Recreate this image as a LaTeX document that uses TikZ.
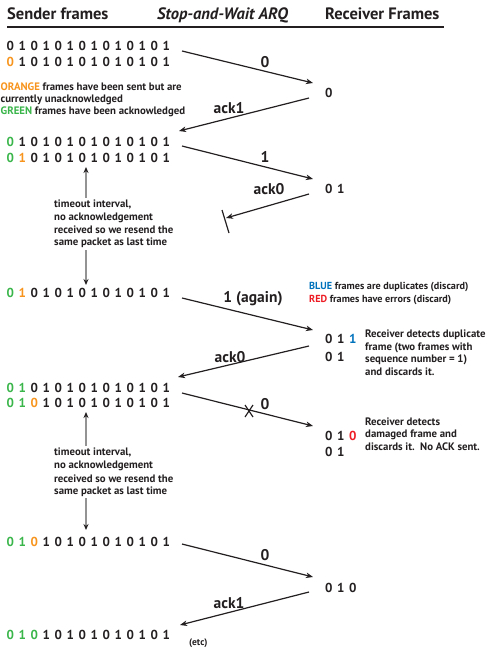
\documentclass[tikz,border=0pt]{standalone}
\usepackage{fontspec}
\setmainfont{PT Sans}
\usetikzlibrary{arrows.meta}
\definecolor{ink}{HTML}{231F20}
\definecolor{org}{HTML}{F7941D}
\definecolor{grn}{HTML}{39B54A}
\definecolor{blu}{HTML}{0072BC}
\definecolor{rd}{HTML}{ED1C24}
\newcommand\dg[2][ink]{\makebox[12pt]{\textcolor{#1}{#2}}}
\tikzset{
 txt/.style={inner sep=0pt, anchor=base west, text=ink},
 hdr/.style={txt, font=\fontsize{16.5}{18}\selectfont\bfseries},
 bits/.style={txt, font=\fontsize{13}{15}\selectfont\bfseries},
 small/.style={txt, font=\fontsize{10.8}{12}\selectfont\bfseries},
 legr/.style={txt, font=\fontsize{10.2}{12}\selectfont\bfseries},
 lbl/.style={inner sep=0pt, text=ink, font=\fontsize{15.5}{17}\selectfont\bfseries},
 msg/.style={draw=ink, line width=1.2pt, -{Stealth[length=7pt,width=5.5pt,inset=2pt]}},
 tmo/.style={draw=gray!85, line width=1.4pt, -{Stealth[length=6pt,width=5pt,color=ink]}},
 tickline/.style={draw=ink, line width=1.2pt},
}
\begin{document}
\begin{tikzpicture}[x=1pt,y=-1pt]
\useasboundingbox (0,0) rectangle (492,648);
% header
\node[hdr] (hs) at (7,19) {Sender frames};
\node[hdr] (hm) at (157,19) {\itshape Stop-and-Wait ARQ};
\node[hdr] (hr) at (325,19) {Receiver Frames};
\coordinate (rl) at (7,27); \coordinate (rr) at (444,27);
\draw[ink, line width=2pt] (rl) -- (rr);

% sender rows
\node[bits] (r1) at (4,50) {\dg0\dg1\dg0\dg1\dg0\dg1\dg0\dg1\dg0\dg1\dg0\dg1\dg0\dg1};
\node[bits] (r2) at (4,66) {\dg[org]0\dg1\dg0\dg1\dg0\dg1\dg0\dg1\dg0\dg1\dg0\dg1\dg0\dg1};
\node[bits] (r3) at (4,146) {\dg[grn]0\dg1\dg0\dg1\dg0\dg1\dg0\dg1\dg0\dg1\dg0\dg1\dg0\dg1};
\node[bits] (r4) at (4,162) {\dg[grn]0\dg[org]1\dg0\dg1\dg0\dg1\dg0\dg1\dg0\dg1\dg0\dg1\dg0\dg1};
\node[bits] (r5) at (4,297) {\dg[grn]0\dg[org]1\dg0\dg1\dg0\dg1\dg0\dg1\dg0\dg1\dg0\dg1\dg0\dg1};
\node[bits] (r6) at (4,392) {\dg[grn]0\dg[grn]1\dg0\dg1\dg0\dg1\dg0\dg1\dg0\dg1\dg0\dg1\dg0\dg1};
\node[bits] (r7) at (4,407) {\dg[grn]0\dg[grn]1\dg[org]0\dg1\dg0\dg1\dg0\dg1\dg0\dg1\dg0\dg1\dg0\dg1};
\node[bits] (r8) at (4,546) {\dg[grn]0\dg[grn]1\dg[org]0\dg1\dg0\dg1\dg0\dg1\dg0\dg1\dg0\dg1\dg0\dg1};
\node[bits] (r9) at (4,639) {\dg[grn]0\dg[grn]1\dg[grn]0\dg1\dg0\dg1\dg0\dg1\dg0\dg1\dg0\dg1\dg0\dg1};
\node[txt, font=\fontsize{9.5}{10}\selectfont\bfseries] (etc) at (189,645.5) {(etc)};

% left legend
\node[small] (lg1) at (0.5,90) {\textcolor{org}{ORANGE} frames have been sent but are};
\node[small] (lg2) at (0.5,102) {currently unacknowledged};
\node[small] (lg3) at (0.5,114) {\textcolor{grn}{GREEN} frames have been acknowledged};

% receiver rows
\node[bits] (q1) at (322.5,97) {\dg0};
\node[bits] (q2) at (322.5,193) {\dg0\dg1};
\node[bits] (q3) at (322.5,343) {\dg0\dg1\dg[blu]1};
\node[bits] (q4) at (322.5,361) {\dg0\dg1};
\node[bits] (q5) at (322.5,440) {\dg0\dg1\dg[rd]0};
\node[bits] (q6) at (322.5,456) {\dg0\dg1};
\node[bits] (q7) at (322.5,592) {\dg0\dg1\dg0};

% right legend
\node[legr] (bl1) at (309,289) {\textcolor{blu}{BLUE} frames are duplicates (discard)};
\node[legr] (bl2) at (309,302) {\textcolor{rd}{RED} frames have errors (discard)};
\node[small] (d1) at (365,337) {Receiver detects duplicate};
\node[small] (d2) at (365,350) {frame (two frames with};
\node[small] (d3) at (365,362) {sequence number = 1)};
\node[small] (d4) at (365,375) {and discards it.};
\node[small] (e1) at (365,425) {Receiver detects};
\node[small] (e2) at (365,437) {damaged frame and};
\node[small] (e3) at (365,450) {discards it.\ \ No ACK sent.};

% timeout notes
\node[small] (ta1) at (54,207) {timeout interval,};
\node[small] (ta2) at (54,220) {no acknowledgement};
\node[small] (ta3) at (54,233) {received so we resend the};
\node[small] (ta4) at (54,245) {same packet as last time};
\node[small] (tb1) at (54,455) {timeout interval,};
\node[small] (tb2) at (54,468) {no acknowledgement};
\node[small] (tb3) at (54,482) {received so we resend the};
\node[small] (tb4) at (54,494) {same packet as last time};
\coordinate (t1a) at (86,198); \coordinate (t1b) at (86,167);
\coordinate (t1c) at (86,250); \coordinate (t1d) at (86,285);
\coordinate (t2a) at (86,446); \coordinate (t2b) at (86,412);
\coordinate (t2c) at (86,498); \coordinate (t2d) at (86,530);
\draw[tmo] (t1a) -- (t1b);
\draw[tmo] (t1c) -- (t1d);
\draw[tmo] (t2a) -- (t2b);
\draw[tmo] (t2c) -- (t2d);

% messages
\coordinate (a1s) at (182,51);  \coordinate (a1e) at (313,83);
\coordinate (a2s) at (309,98);  \coordinate (a2e) at (179,131);
\coordinate (a3s) at (182,146); \coordinate (a3e) at (313,179);
\coordinate (a4s) at (309,194); \coordinate (a4e) at (226,218);
\coordinate (a5s) at (182,298); \coordinate (a5e) at (313,330);
\coordinate (a6s) at (309,346); \coordinate (a6e) at (178,377);
\coordinate (a7s) at (182,393); \coordinate (a7e) at (313,426);
\coordinate (a8s) at (182,544); \coordinate (a8e) at (313,577);
\coordinate (a9s) at (309,592); \coordinate (a9e) at (180,625);
\draw[msg] (a1s) -- (a1e);
\draw[msg] (a2s) -- (a2e);
\draw[msg] (a3s) -- (a3e);
\draw[msg] (a4s) -- (a4e);
\draw[msg] (a5s) -- (a5e);
\draw[msg] (a6s) -- (a6e);
\draw[msg] (a7s) -- (a7e);
\draw[msg] (a8s) -- (a8e);
\draw[msg] (a9s) -- (a9e);

% lost ack bar and damaged mark
\coordinate (b1) at (222,210); \coordinate (b2) at (229,233);
\draw[tickline] (b1) -- (b2);
\coordinate (x1) at (245,405); \coordinate (x2) at (253,417);
\coordinate (x3) at (253,405); \coordinate (x4) at (245,417);
\draw[tickline] (x1) -- (x2);
\draw[tickline] (x3) -- (x4);

% labels
\node[lbl] (l1) at (265,62) {0};
\node[lbl] (l2) at (229,108) {ack1};
\node[lbl] (l3) at (265,157) {1};
\node[lbl] (l4) at (269,189) {ack0};
\node[lbl] (l5) at (253,299) {1 (again)};
\node[lbl] (l6) at (230,357) {ack0};
\node[lbl] (l7) at (265,404) {0};
\node[lbl] (l8) at (265,555) {0};
\node[lbl] (l9) at (229,603) {ack1};
\end{tikzpicture}
\end{document}
